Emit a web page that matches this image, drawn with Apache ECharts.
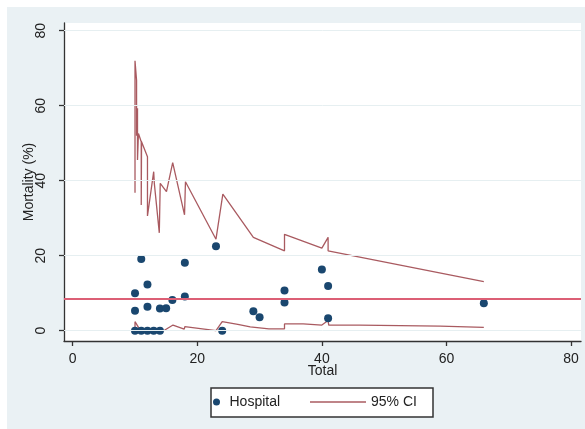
<!DOCTYPE html>
<html>
<head>
<meta charset="utf-8">
<style>
html,body{margin:0;padding:0;background:#fff;}
#chart{width:585px;height:429px;}
</style>
<script src="https://cdn.jsdelivr.net/npm/echarts@6/dist/echarts.min.js"></script>
</head>
<body>
<div id="chart"></div>
<script>
// Hospital points: Total (x) and Mortality % (y)
const hospitalTotal = [10,10,10,11,11,12,12,12,13,14,14,15,16,18,18,23,24,29,30,34,34,40,41,41,66];
const hospitalMortality = [0,5.3,10,0,19.1,0,6.4,12.3,0,0,5.9,6.0,8.2,9.1,18.1,22.5,0,5.2,3.6,7.5,10.7,16.3,11.9,3.3,7.3];

// 95% CI upper limit trace
const upperX = [10,10,10.25,10.25,10.4,10.4,10.55,11,11,11.05,12,12,13,13.1,13.9,14.05,15.05,16.05,17.95,18.1,23,24.1,29,34,34,40,41,41,66];
const upperY = [36.8,72,66.8,52,59.3,45.5,52.6,50.4,33.5,50.4,46.4,30.6,42.4,39.3,26.1,39.3,37.1,44.8,30.9,39.7,24.4,36.4,24.9,21.3,25.7,22,24.9,21.3,13.1];

// 95% CI lower limit trace
const lowerX = [10,10,10.8,14,14.6,16.1,17.9,18,23,24,26.5,28.5,31.5,34,34,37,37,40,41,41.1,46,46,59,59,66];
const lowerY = [0,2.4,0.2,0,0,1.5,0.4,1.1,0,2.4,1.7,1.0,0.5,0.5,1.8,1.8,1.5,1.5,2.7,1.5,1.5,1.2,1.2,0.9,0.9];

// Overall mortality reference line
const overallMortality = 8.4;

const xTicks = [0,20,40,60,80];
const yTicks = [0,20,40,60,80];

const FONT = "'Liberation Sans', Arial, sans-serif";
const CI_COLOR = '#9a3d44';
const chart = echarts.init(document.getElementById('chart'));

const pts = hospitalTotal.map((x,i)=>[x, hospitalMortality[i]]);
const up = upperX.map((x,i)=>[x, upperY[i]]);
const lo = lowerX.map((x,i)=>[x, lowerY[i]]);

chart.setOption({
  backgroundColor: '#ffffff',
  animation: false,
  textStyle: {fontFamily: FONT},
  graphic: [
    {type:'rect', z:-100, shape:{x:7,y:7,width:578,height:422}, style:{fill:'#eaf1f4'}},
    {type:'rect', z:1, shape:{x:211,y:388,width:222,height:29}, style:{fill:'#ffffff', stroke:'#333', lineWidth:1.5}}
  ],
  grid: {left:64, top:23, right:4, bottom:88, show:true, backgroundColor:'#ffffff', borderWidth:0},
  xAxis: {
    type:'value', min:-1.4, max:81.6,
    name:'Total', nameLocation:'middle', nameGap:23, nameMoveOverlap:false,
    nameTextStyle:{fontSize:14, color:'#222', fontFamily:FONT},
    axisLine:{show:true, onZero:false, lineStyle:{color:'#333', width:1.3}},
    axisTick:{show:true, customValues:xTicks, length:5, lineStyle:{color:'#333', width:1.3}},
    axisLabel:{customValues:xTicks, fontSize:14, color:'#222', margin:11, fontFamily:FONT},
    splitLine:{show:false}
  },
  yAxis: {
    type:'value', min:-2.75, max:82.05,
    name:'Mortality (%)', nameLocation:'middle', nameGap:28, nameMoveOverlap:false,
    nameTextStyle:{fontSize:14, color:'#222', fontFamily:FONT},
    axisLine:{show:true, onZero:false, lineStyle:{color:'#333', width:1.3}},
    axisTick:{show:true, customValues:yTicks, length:5, lineStyle:{color:'#333', width:1.3}},
    axisLabel:{customValues:yTicks, rotate:90, fontSize:14, color:'#222', margin:16, fontFamily:FONT},
    splitLine:{show:false}
  },
  legend: [
    {data:['Hospital'], left:213, top:395, padding:0, itemWidth:16, itemHeight:7, z:5,
     textStyle:{fontSize:14, color:'#222', fontFamily:FONT}},
    {data:[{name:'95% CI', icon:'rect', itemStyle:{color:CI_COLOR, opacity:0.85}}],
     left:310, top:395, padding:0, itemWidth:56, itemHeight:1.5, z:5,
     textStyle:{fontSize:14, color:'#222', fontFamily:FONT}}
  ],
  series: [
    {
      name:'gridlines', type:'line', data:[], silent:true,
      markLine:{silent:true, symbol:'none', label:{show:false},
        lineStyle:{color:'#e6eff1', width:1, type:'solid'},
        data: yTicks.map(v=>({yAxis:v}))}
    },
    {
      name:'overall', type:'line', data:[], silent:true,
      markLine:{silent:true, symbol:'none', label:{show:false},
        lineStyle:{color:'#dc5f75', width:2, type:'solid'},
        data:[{yAxis:overallMortality}]}
    },
    {
      name:'95% CI', type:'line', data:up, symbol:'none', z:3,
      lineStyle:{color:CI_COLOR, width:1.3, opacity:0.85}, itemStyle:{color:CI_COLOR}
    },
    {
      name:'95% CI', type:'line', data:lo, symbol:'none', z:3,
      lineStyle:{color:CI_COLOR, width:1.3, opacity:0.85}, itemStyle:{color:CI_COLOR}
    },
    {
      name:'Hospital', type:'scatter', data:pts, symbol:'circle', symbolSize:8, z:4,
      itemStyle:{color:'#1a476f', opacity:1}
    }
  ]
});
</script>
</body>
</html>
